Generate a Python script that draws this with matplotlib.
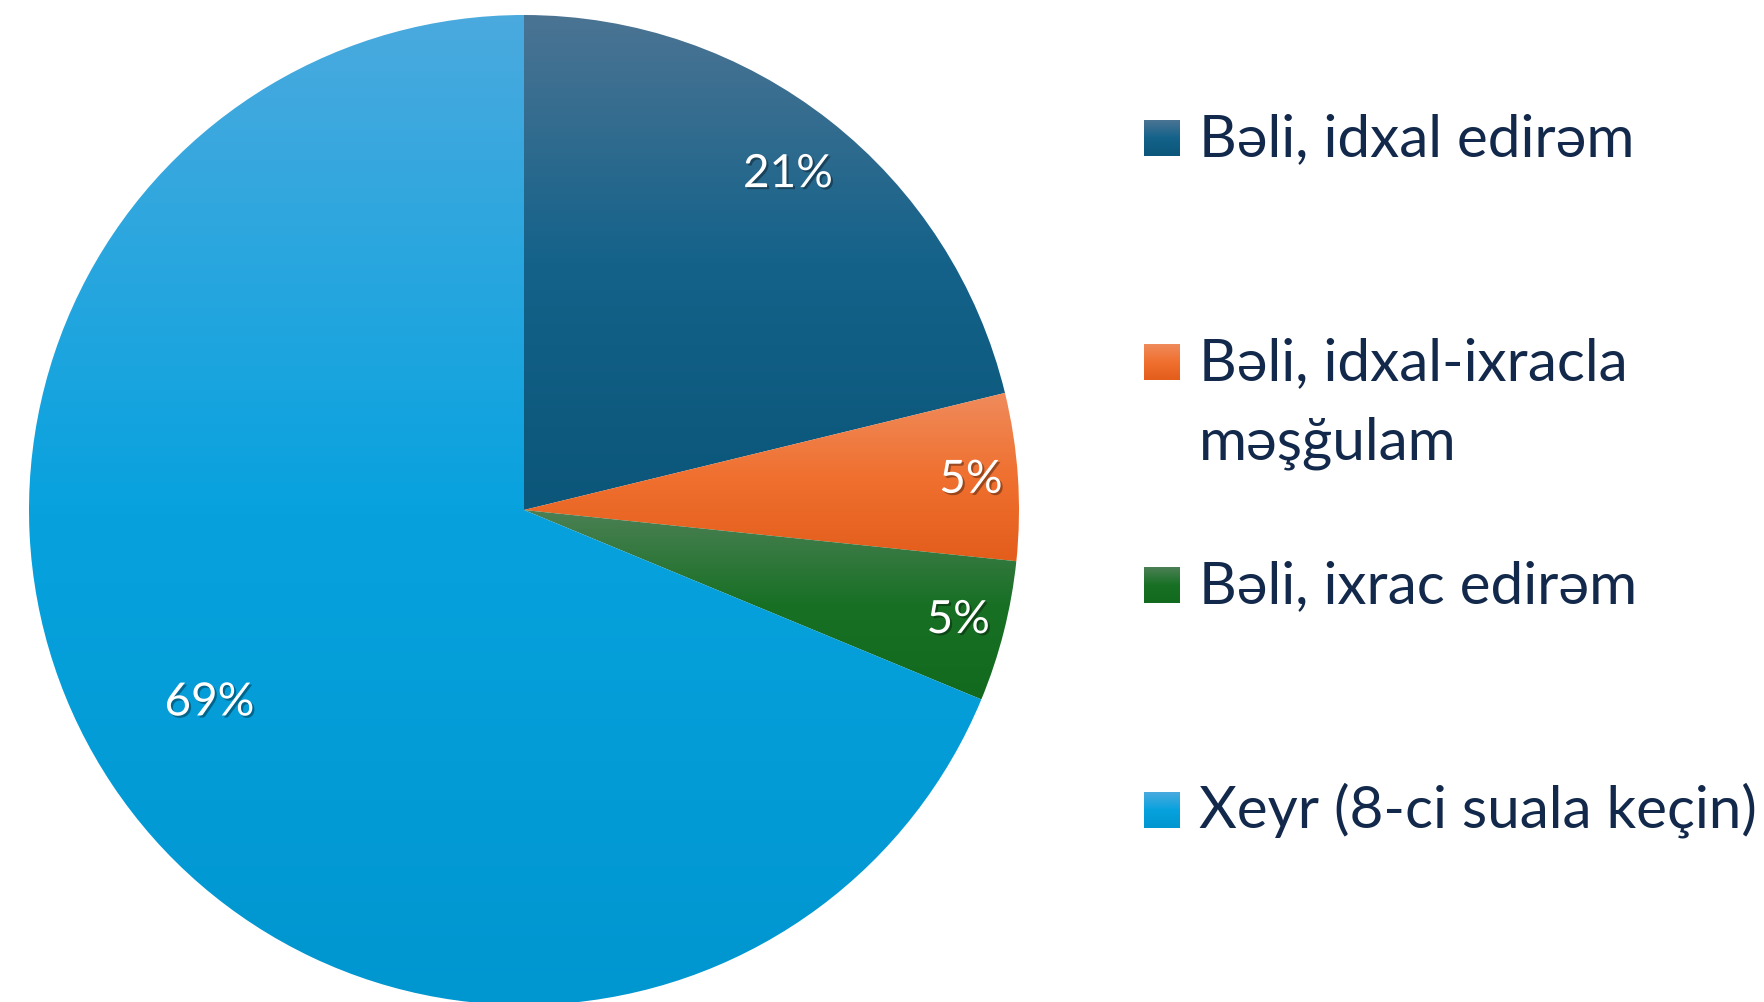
import numpy as np
import matplotlib
matplotlib.use('Agg')
import matplotlib.pyplot as plt
import matplotlib.patheffects as pe
from matplotlib.colors import LinearSegmentedColormap

# dados do gráfico
categorias = ['Bəli, idxal edirəm', 'Bəli, idxal-ixracla\nməşğulam',
              'Bəli, ixrac edirəm', 'Xeyr (8-ci suala keçin)']
percentuais = [21.2, 5.45, 4.6, 68.75]
rotulos = ['21%', '5%', '5%', '69%']

# cores (topo, meio, base) de cada fatia - gradiente vertical
cores = [('#4b7493', '#14628a', '#0b5679'),
         ('#ef8b5c', '#f0702f', '#e35d1b'),
         ('#4c8055', '#187025', '#126a1e'),
         ('#4aaade', '#07a2de', '#0096d0')]
cor_texto = '#13294b'
fonte = 'Lato'

fig = plt.figure(figsize=(17.65, 10.02), dpi=100)
ax = fig.add_axes([0, 0, 1, 1])

cx, cy, R = 524, 1002 - 510, 495
wedges, _ = ax.pie(percentuais, startangle=90, counterclock=False,
                   center=(cx, cy), radius=R)


def gradiente(patch, c, x0, x1, y0, y1):
    cmap = LinearSegmentedColormap.from_list('g', [(0, c[0]), (0.5, c[1]), (1, c[2])])
    grad = np.linspace(0, 1, 256).reshape(-1, 1)
    im = ax.imshow(grad, cmap=cmap, extent=(x0, x1, y0, y1), origin='upper',
                   aspect='auto', interpolation='bilinear', zorder=1)
    im.set_clip_path(patch)


for w, c in zip(wedges, cores):
    w.set_facecolor('none')
    w.set_edgecolor('none')
    v = w.get_path().vertices
    gradiente(w, c, v[:, 0].min(), v[:, 0].max(), v[:, 1].min(), v[:, 1].max())

# rótulos de porcentagem
dist = [0.863, 0.905, 0.905, 0.745]
desvio = [0, 0, 0, -2.3]
for w, txt, d, da in zip(wedges, rotulos, dist, desvio):
    ang = np.deg2rad((w.theta1 + w.theta2) / 2 + da)
    ax.text(cx + d * R * np.cos(ang), cy + d * R * np.sin(ang), txt,
            ha='center', va='center', color='white', fontsize=33, family=fonte,
            zorder=3,
            path_effects=[pe.withSimplePatchShadow(offset=(1.5, -1.5),
                                                   shadow_rgbFace='black', alpha=0.35)])

# legenda manual
topos = [120, 344, 567, 792]
for nome, c, t in zip(categorias, cores, topos):
    y_base = 1002 - t - 36
    q = plt.Rectangle((1144, y_base), 36, 36, facecolor='none', edgecolor='none')
    ax.add_patch(q)
    gradiente(q, c, 1144, 1180, y_base, y_base + 36)
    for i, linha in enumerate(nome.split('\n')):
        ax.text(1199, y_base - i * 79, linha, ha='left', va='baseline',
                color=cor_texto, fontsize=42, family=fonte, zorder=3)

ax.set_xlim(0, 1765)
ax.set_ylim(0, 1002)
ax.axis('off')
fig.savefig('out.png', dpi=100)
